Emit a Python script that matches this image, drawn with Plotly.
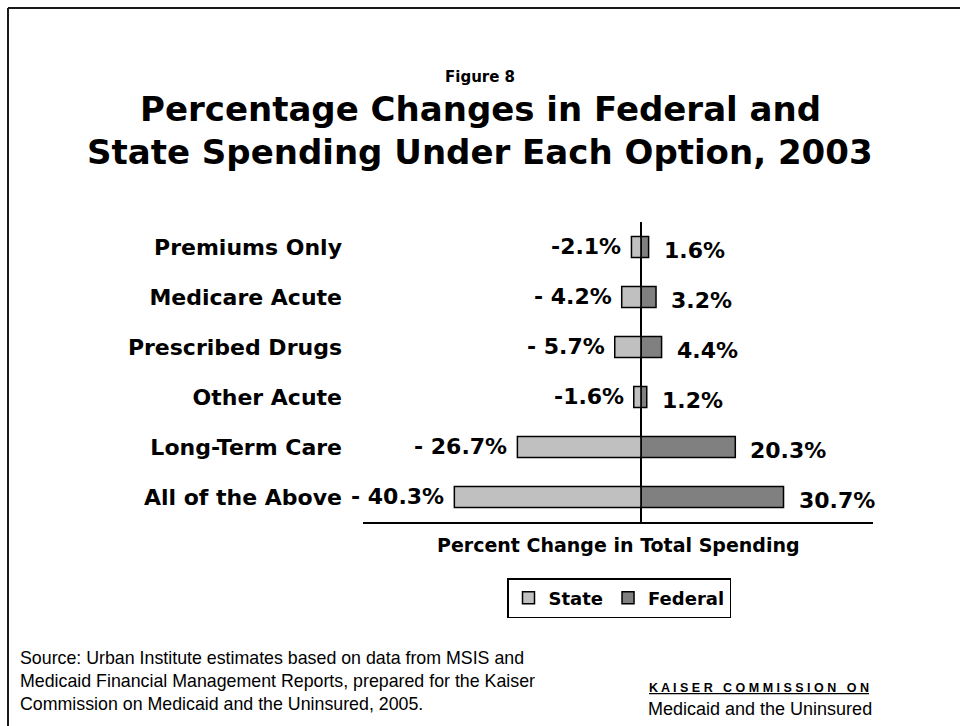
import plotly.graph_objects as go

# Spending options (top to bottom)
options = ["Premiums Only", "Medicare Acute", "Prescribed Drugs",
           "Other Acute", "Long-Term Care", "All of the Above"]
state_change = [-2.1, -4.2, -5.7, -1.6, -26.7, -40.3]
federal_change = [1.6, 3.2, 4.4, 1.2, 20.3, 30.7]
state_labels = ["-2.1%", "- 4.2%", "- 5.7%", "-1.6%", "- 26.7%", "- 40.3%"]
federal_labels = ["1.6%", "3.2%", "4.4%", "1.2%", "20.3%", "30.7%"]

W, H = 960, 726
BOLD = "DejaVu Sans"
REG = "Liberation Sans"


def px(x):
    return x / W


def py(y):
    return 1 - y / H


fig = go.Figure()
fig.add_trace(go.Bar(
    y=options, x=state_change, orientation="h", name="State",
    marker=dict(color="#C0C0C0", line=dict(color="#000000", width=1.5)),
    hoverinfo="x+y",
))
fig.add_trace(go.Bar(
    y=options, x=federal_change, orientation="h", name="Federal",
    marker=dict(color="#808080", line=dict(color="#000000", width=1.5)),
    hoverinfo="x+y",
))

annotations = []
# value labels beside each bar
for cat, v, t in zip(options, state_change, state_labels):
    annotations.append(dict(x=v, y=cat, xref="x", yref="y", text=f"<b>{t}</b>",
                            showarrow=False, xanchor="right", xshift=-8, yshift=1,
                            font=dict(family=BOLD, size=22, color="#000")))
for cat, v, t in zip(options, federal_change, federal_labels):
    annotations.append(dict(x=v, y=cat, xref="x", yref="y", text=f"<b>{t}</b>",
                            showarrow=False, xanchor="left", xshift=13, yshift=-3,
                            font=dict(family=BOLD, size=22, color="#000")))

# headings
annotations += [
    dict(x=0.5, y=py(77), xref="paper", yref="paper", text="<b>Figure 8</b>",
         showarrow=False, xanchor="center", yanchor="middle",
         font=dict(family=BOLD, size=15, color="#000")),
    dict(x=0.5, y=py(109), xref="paper", yref="paper",
         text="<b>Percentage Changes in Federal and</b>",
         showarrow=False, xanchor="center", yanchor="middle",
         font=dict(family=BOLD, size=34, color="#000")),
    dict(x=0.5, y=py(152), xref="paper", yref="paper",
         text="<b>State Spending Under Each Option, 2003</b>",
         showarrow=False, xanchor="center", yanchor="middle",
         font=dict(family=BOLD, size=34, color="#000")),
    dict(x=px(618), y=py(545), xref="paper", yref="paper",
         text="<b>Percent Change in Total Spending</b>",
         showarrow=False, xanchor="center", yanchor="middle",
         font=dict(family=BOLD, size=19, color="#000")),
    dict(x=px(18), y=py(646), xref="paper", yref="paper",
         text="Source: Urban Institute estimates based on data from MSIS and<br>"
              "Medicaid Financial Management Reports, prepared for the Kaiser<br>"
              "Commission on Medicaid and the Uninsured, 2005.",
         showarrow=False, xanchor="left", yanchor="top", align="left",
         font=dict(family=REG, size=17.8, color="#000")),
    dict(x=px(759), y=py(688), xref="paper", yref="paper",
         text="<b><u>K A I S E R   C O M M I S S I O N   O N</u></b>",
         showarrow=False, xanchor="center", yanchor="middle",
         font=dict(family=REG, size=12.5, color="#000")),
    dict(x=px(760), y=py(709), xref="paper", yref="paper",
         text="Medicaid and the Uninsured",
         showarrow=False, xanchor="center", yanchor="middle",
         font=dict(family=REG, size=18, color="#000")),
]

# page frame (left and top edges)
shapes = [
    dict(type="line", xref="paper", yref="paper", x0=px(8), x1=px(8),
         y0=py(8), y1=-0.05, line=dict(color="#1a1a1a", width=2)),
    dict(type="line", xref="paper", yref="paper", x0=px(8), x1=1.05,
         y0=py(8), y1=py(8), line=dict(color="#1a1a1a", width=2)),
]

fig.update_layout(
    width=W, height=H,
    margin=dict(l=0, r=0, t=0, b=0),
    paper_bgcolor="white", plot_bgcolor="white",
    barmode="relative", bargap=0.58,
    showlegend=True,
    legend=dict(orientation="h", x=px(619), y=py(578), xanchor="center", yanchor="top",
                bordercolor="#000", borderwidth=1.5, bgcolor="white",
                font=dict(family=BOLD, size=18, color="#000", weight="bold"),
                itemwidth=30, traceorder="normal"),
    xaxis=dict(domain=[px(363), px(873)], range=[-60, 50], showgrid=False,
               zeroline=True, zerolinecolor="#000", zerolinewidth=1.5,
               showline=True, linecolor="#000", linewidth=2,
               showticklabels=False, ticks="", fixedrange=True),
    yaxis=dict(domain=[py(522), py(222)], autorange="reversed", showgrid=False,
               zeroline=False, showline=False, ticks="", ticklabelstandoff=20,
               tickfont=dict(family=BOLD, size=22, color="#000"),
               tickprefix="<b>", ticksuffix="</b>", fixedrange=True),
    annotations=annotations,
    shapes=shapes,
)

fig.write_html("out.html")
